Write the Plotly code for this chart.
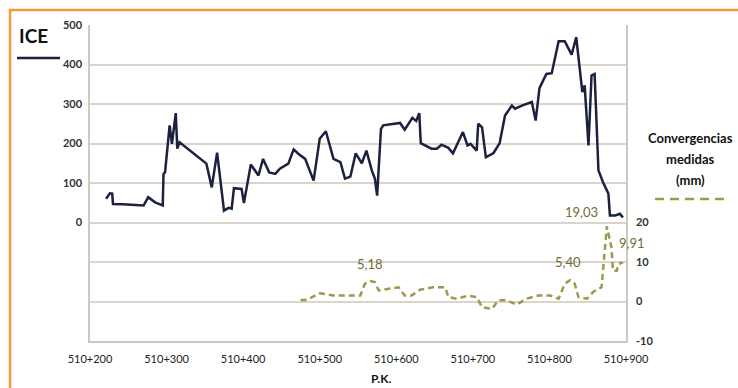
import plotly.graph_objects as go

# ICE series (P.K. offset from 510+000, metres)
ice_pk = [221, 226, 229, 230, 243, 270, 276, 285, 295, 296, 298, 304, 307, 312, 314, 317,
          352, 359, 366, 375, 381, 385, 388, 398, 401, 410, 420, 426, 434, 442, 448, 459,
          466, 472, 481, 492, 500, 508, 518, 527, 533, 540, 547, 555, 561, 568, 572, 575,
          580, 583, 605, 611, 621, 626, 630, 632, 646, 653, 659, 668, 674, 687, 693, 697,
          705, 707, 712, 717, 727, 735, 742, 751, 755, 764, 777, 782, 787, 796, 803, 812,
          820, 829, 835, 843, 846, 851, 855, 859, 864, 870, 877, 879, 886, 892, 896]
ice_val = [60, 74, 73, 47, 46, 43, 64, 51, 43, 123, 127, 246, 199, 277, 187, 203,
           149, 89, 177, 30, 37, 35, 87, 85, 49, 147, 119, 161, 127, 123, 136, 149,
           185, 174, 161, 106, 212, 231, 161, 153, 111, 116, 175, 150, 182, 132, 111, 68,
           237, 246, 252, 235, 265, 257, 277, 201, 187, 187, 197, 189, 175, 229, 195, 199,
           182, 250, 241, 165, 176, 201, 271, 296, 288, 296, 305, 258, 340, 376, 378, 459,
           459, 425, 469, 330, 347, 195, 372, 376, 132, 102, 73, 18, 18, 22, 13]

# Convergencias medidas (mm)
conv_pk = [475, 483, 500, 518, 553, 559, 566, 572, 577, 592, 603, 611, 620, 631, 648, 664,
           668, 679, 694, 705, 712, 725, 733, 744, 757, 770, 785, 801, 812, 820, 827, 833,
           838, 849, 857, 868, 875, 881, 883, 888, 890, 896]
conv_val = [0.4, 0.4, 2.1, 1.5, 1.5, 4.5, 5.18, 4.9, 2.8, 3.2, 3.6, 1.5, 1.5, 3.0, 3.6, 3.6,
            1.1, 0.7, 1.5, 1.1, -1.4, -1.9, 0.3, 0.3, -0.8, 0.7, 1.5, 1.5, 0.7, 4.5, 5.40, 4.5,
            1.1, 0.7, 2.4, 3.6, 19.03, 13.7, 7.8, 7.8, 9.5, 9.91]

x_ticks = [200, 300, 400, 500, 600, 700, 800, 900]
x_labels = ["510+200", "510+300", "510+400", "510+500", "510+600", "510+700", "510+800", "510+900"]
y_ticks = [-300, -200, -100, 0, 100, 200, 300, 400, 500]
y_labels = ["", "", "", "0", "100", "200", "300", "400", "500"]
y2_ticks = [-10, 0, 10, 20]
y2_labels = ["-10", "0", "10", "20"]

# labelled points: (pk, value, text, xshift, yshift)
labels = [(566, 5.18, "5,18", 0, 17), (827, 5.40, "5,40", -2, 18),
          (875, 19.03, "19,03", -25, 14), (896, 9.91, "9,91", 9, 19)]

NAVY = "#1c2140"
OLIVE = "#9c9a4a"
OLIVE_TXT = "#6e6c34"
GRID = "#dcd4cc"
FONT = "Lato"

fig = go.Figure()
fig.add_trace(go.Scatter(x=ice_pk, y=ice_val, mode="lines",
                         line=dict(color=NAVY, width=2.5), yaxis="y", showlegend=False))
fig.add_trace(go.Scatter(x=conv_pk, y=conv_val, mode="lines",
                         line=dict(color=OLIVE, width=2.5, dash="6px,4px"), yaxis="y2",
                         showlegend=False))

annotations = []
for pk, v, t, xs, ys in labels:
    annotations.append(dict(x=pk, y=v, xref="x", yref="y2", text=t, showarrow=False,
                            xshift=xs, yshift=ys, xanchor="center", yanchor="middle",
                            font=dict(family=FONT, size=13, color=OLIVE_TXT)))

W0, PW, T0, PH = 90, 536, 25, 316
def px(xp):
    return (xp - W0) / PW
def py(yp):
    return (T0 + PH - yp) / PH

def txt(x, y, s, size):
    return dict(x=px(x), y=py(y), xref="paper", yref="paper", text=s, showarrow=False,
                xanchor="center", yanchor="middle",
                font=dict(family=FONT, size=size, color="#111111"))

annotations += [
    txt(33, 36, "<b>ICE</b>", 19),
    txt(690, 138, "<b>Convergencias</b>", 13),
    txt(690, 159, "<b>medidas</b>", 13),
    txt(690, 180, "<b>(mm)</b>", 13),
    txt(381, 378, "<b>P.K.</b>", 12),
]

shapes = [
    dict(type="line", xref="paper", yref="paper", x0=px(17), x1=px(60), y0=py(58), y1=py(58),
         line=dict(color=NAVY, width=2.5)),
    dict(type="line", xref="paper", yref="paper", x0=px(655), x1=px(725), y0=py(199), y1=py(199),
         line=dict(color=OLIVE, width=2.5, dash="9px,6px")),
    dict(type="line", xref="paper", yref="paper", x0=px(9), x1=px(745), y0=py(10), y1=py(10),
         line=dict(color="#f39a3a", width=2.5)),
    dict(type="line", xref="paper", yref="paper", x0=px(10), x1=px(10), y0=py(9), y1=py(395),
         line=dict(color="#f39a3a", width=2.5)),
]

fig.update_layout(
    width=738, height=388,
    margin=dict(l=W0, r=738 - W0 - PW, t=T0, b=388 - T0 - PH),
    paper_bgcolor="white", plot_bgcolor="white",
    font=dict(family=FONT, color="#333333"),
    xaxis=dict(range=[200, 900], tickvals=x_ticks, ticktext=x_labels, showgrid=False,
               zeroline=False, showline=True, linecolor="#cfc8c0", linewidth=1.5,
               ticks="", ticklabelstandoff=7,
               tickfont=dict(family=FONT, size=11, color="#222222")),
    yaxis=dict(range=[-300, 500], tickvals=y_ticks, ticktext=y_labels, showgrid=True,
               gridcolor=GRID, gridwidth=1.5, zeroline=False, showline=True,
               linecolor="#cfc8c0", linewidth=1.5, ticks="", ticklabelstandoff=4,
               tickfont=dict(family=FONT, size=11, color="#333333", weight="bold")),
    yaxis2=dict(range=[-10, 70], tickvals=y2_ticks, ticktext=y2_labels, overlaying="y",
                side="right", showgrid=False, zeroline=False, showline=True,
                linecolor="#cfc8c0", linewidth=1.5, ticks="", ticklabelstandoff=6,
                tickfont=dict(family=FONT, size=11, color="#333333", weight="bold")),
    annotations=annotations, shapes=shapes,
)

fig.write_html("out.html", config={"displayModeBar": False},
               post_script="document.body.style.margin='0px';")
